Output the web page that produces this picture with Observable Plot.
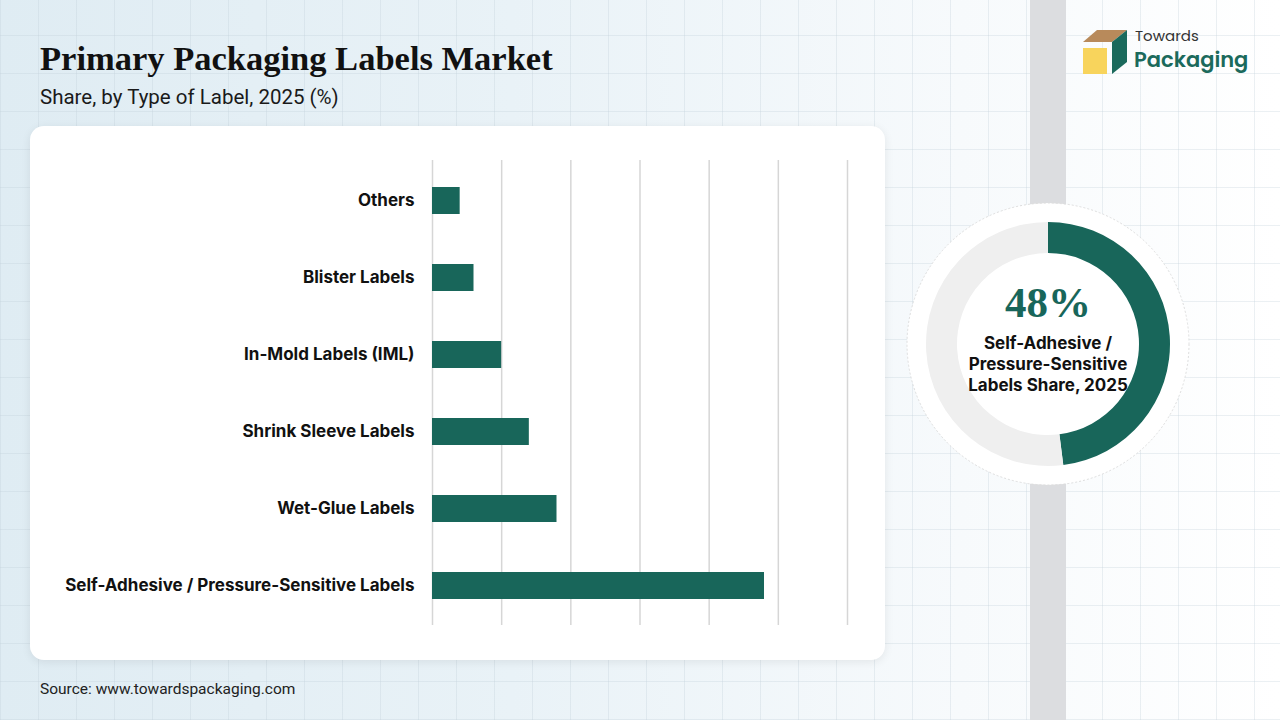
<!DOCTYPE html>
<html>
<head>
<meta charset="utf-8">
<script src="https://cdn.jsdelivr.net/npm/d3@7"></script>
<script src="https://cdn.jsdelivr.net/npm/@observablehq/plot@0.6"></script>
<style>
  html, body { margin: 0; padding: 0; }
  body {
    width: 1280px; height: 720px; position: relative; overflow: hidden;
    font-family: Inter, "Liberation Sans", Arial, sans-serif;
    background:
      repeating-linear-gradient(90deg, rgba(190,205,215,0.3) 0 1px, transparent 1px 38px),
      repeating-linear-gradient(0deg, rgba(190,205,215,0.3) 0 1px, transparent 1px 38px),
      linear-gradient(90deg, #dfecf3 0%, #e9f2f7 40%, #f7fafc 75%, #ffffff 100%);
  }
  #band { position: absolute; left: 1030px; top: 0; width: 36px; height: 720px; background: #dcdde0; }
  #title { position: absolute; left: 40px; top: 39px; font-family: "Liberation Serif", serif; font-weight: bold; font-size: 34.5px; color: #111; white-space: nowrap; }
  #subtitle { position: absolute; left: 40px; top: 85px; font-family: Roboto, sans-serif; font-size: 20.5px; color: #1a1a1a; white-space: nowrap; }
  #card { position: absolute; left: 30px; top: 126px; width: 855px; height: 534px; background: #fff; border-radius: 14px; box-shadow: 0 2px 10px rgba(0,0,0,0.08); }
  #chart { position: absolute; left: 30px; top: 126px; }
  #donut { position: absolute; left: 898px; top: 194px; }
  #source { position: absolute; left: 40px; top: 680px; font-family: Roboto, sans-serif; font-size: 15.5px; color: #222; white-space: nowrap; }
  #logo { position: absolute; left: 1080px; top: 16px; }
</style>
</head>
<body>
<div id="band"></div>
<div id="title">Primary Packaging Labels Market</div>
<div id="subtitle">Share, by Type of Label, 2025 (%)</div>
<div id="card"></div>
<div id="chart"></div>
<div id="donut"></div>
<div id="logo"></div>
<div id="source">Source: www.towardspackaging.com</div>
<script>
const categories = ["Others", "Blister Labels", "In-Mold Labels (IML)", "Shrink Sleeve Labels", "Wet-Glue Labels", "Self-Adhesive / Pressure-Sensitive Labels"];
const shares = [4, 6, 10, 14, 18, 48];
const xTicks = [0, 10, 20, 30, 40, 50, 60];
const highlightValue = 48;
const highlightLabel = ["Self-Adhesive /", "Pressure-Sensitive", "Labels Share, 2025"];

const data = categories.map((c, i) => ({category: c, share: shares[i]}));
const GREEN = "#18665a";

const chart = Plot.plot({
  width: 855,
  height: 534,
  marginTop: 34,
  marginBottom: 35,
  marginLeft: 402,
  marginRight: 38,
  style: {background: "transparent", fontFamily: "Inter, 'Liberation Sans', Arial, sans-serif"},
  x: {domain: [0, 60], axis: null},
  y: {domain: categories, paddingInner: 0.65, paddingOuter: 0.325, label: null},
  marks: [
    Plot.ruleX(xTicks, {stroke: "#d6d6d6", strokeWidth: 1.5}),
    Plot.barX(data, {x: "share", y: "category", fill: GREEN}),
    Plot.axisY({tickSize: 0, tickPadding: 18, fontSize: 17, fontWeight: "bold", fill: "#111", label: null})
  ]
});
document.getElementById("chart").appendChild(chart);

// Donut
const W = 300, H = 300, cx = 150, cy = 150;
const svg = d3.select("#donut").append("svg").attr("width", W).attr("height", H);
svg.append("circle").attr("cx", cx).attr("cy", cy).attr("r", 141)
  .attr("fill", "#fff").attr("stroke", "#dedede").attr("stroke-dasharray", "2,2");
const pie = d3.pie().sort(null).value(d => d)([highlightValue, 100 - highlightValue]);
const arc = d3.arc().innerRadius(91).outerRadius(122);
svg.append("g").attr("transform", `translate(${cx},${cy})`)
  .selectAll("path").data(pie).join("path")
  .attr("d", arc).attr("fill", (d, i) => i === 0 ? GREEN : "#efefef");
svg.append("text").attr("x", cx).attr("y", cy - 27).attr("text-anchor", "middle")
  .attr("font-family", "'Liberation Serif', serif").attr("font-weight", "bold").attr("font-size", 43)
  .attr("fill", GREEN).text(highlightValue + "%");
highlightLabel.forEach((t, i) => {
  svg.append("text").attr("x", cx).attr("y", cy + 5 + i * 21).attr("text-anchor", "middle")
    .attr("font-family", "Inter, 'Liberation Sans', Arial, sans-serif").attr("font-weight", "bold").attr("font-size", 17)
    .attr("fill", "#111").text(t);
});

// Logo
const lg = d3.select("#logo").append("svg").attr("width", 190).attr("height", 70);
lg.append("polygon").attr("points", "3,26 17,14 47,14 32,26").attr("fill", "#b88a5b");
lg.append("rect").attr("x", 3).attr("y", 32).attr("width", 24).attr("height", 26).attr("fill", "#f8d45c");
lg.append("polygon").attr("points", "32,26 47,14 47,46 32,58").attr("fill", "#1b6a5c");
lg.append("text").attr("x", 55).attr("y", 25).attr("font-family", "Poppins, 'Open Sans', sans-serif")
  .attr("font-size", 15).attr("fill", "#333").text("Towards");
lg.append("text").attr("x", 54).attr("y", 51).attr("font-family", "Poppins, 'Open Sans', sans-serif")
  .attr("font-weight", 600).attr("font-size", 21).attr("fill", "#1b6a5c").text("Packaging");
</script>
</body>
</html>
